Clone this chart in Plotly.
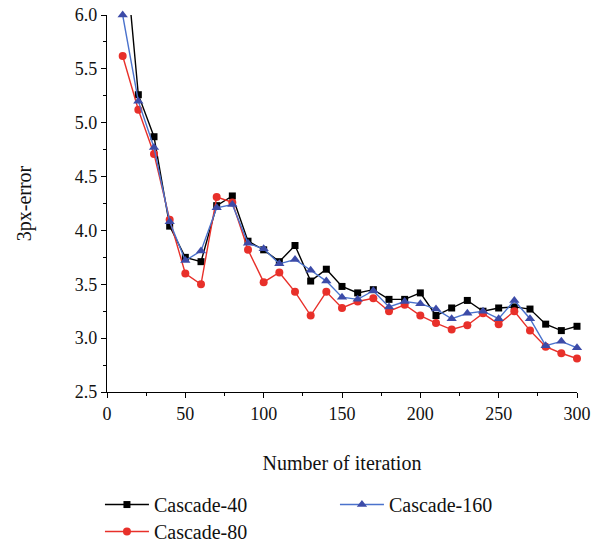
import plotly.graph_objects as go

iterations = [10, 20, 30, 40, 50, 60, 70, 80, 90, 100, 110, 120, 130, 140, 150,
              160, 170, 180, 190, 200, 210, 220, 230, 240, 250, 260, 270, 280, 290, 300]

cascade_40 = [6.85, 5.26, 4.87, 4.04, 3.75, 3.71, 4.23, 4.32, 3.90, 3.82, 3.71, 3.86, 3.53, 3.64, 3.48,
              3.42, 3.45, 3.36, 3.36, 3.42, 3.21, 3.28, 3.35, 3.25, 3.28, 3.29, 3.27, 3.13, 3.07, 3.11]
cascade_80 = [5.62, 5.12, 4.71, 4.10, 3.60, 3.50, 4.31, 4.26, 3.82, 3.52, 3.61, 3.43, 3.21, 3.43, 3.28,
              3.34, 3.37, 3.25, 3.31, 3.21, 3.14, 3.08, 3.12, 3.23, 3.13, 3.25, 3.07, 2.92, 2.86, 2.81]
cascade_160 = [6.00, 5.20, 4.77, 4.08, 3.72, 3.81, 4.21, 4.24, 3.88, 3.83, 3.69, 3.73, 3.63, 3.53, 3.38,
               3.36, 3.44, 3.29, 3.34, 3.32, 3.27, 3.18, 3.23, 3.25, 3.18, 3.35, 3.18, 2.93, 2.97, 2.91]

x_ticks = [0, 50, 100, 150, 200, 250, 300]
y_ticks = [2.5, 3.0, 3.5, 4.0, 4.5, 5.0, 5.5, 6.0]

FONT = "Liberation Serif"

fig = go.Figure()
fig.add_trace(go.Scatter(
    x=iterations, y=cascade_40, name="Cascade-40", mode="lines+markers",
    line=dict(color="#000000", width=1.4),
    marker=dict(symbol="square", size=7, color="#000000"),
    cliponaxis=False, legend="legend"))
fig.add_trace(go.Scatter(
    x=iterations, y=cascade_80, name="Cascade-80", mode="lines+markers",
    line=dict(color="#E8302A", width=1.4),
    marker=dict(symbol="circle", size=8, color="#E8302A"),
    cliponaxis=False, legend="legend3"))
fig.add_trace(go.Scatter(
    x=iterations, y=cascade_160, name="Cascade-160", mode="lines+markers",
    line=dict(color="#4A72CC", width=1.4),
    marker=dict(symbol="triangle-up", size=9, color="#3C4BA8"),
    cliponaxis=False, legend="legend2"))

leg_common = dict(orientation="v", xanchor="left", yref="container", yanchor="top",
                  font=dict(family=FONT, size=20), itemwidth=44,
                  bgcolor="rgba(0,0,0,0)")

fig.update_layout(
    width=615, height=545,
    margin=dict(l=107, r=38, t=15, b=153, autoexpand=False),
    paper_bgcolor="white", plot_bgcolor="white",
    font=dict(family=FONT, size=18, color="#111111"),
    legend=dict(x=-0.015, y=0.11, **leg_common),
    legend2=dict(x=0.485, y=0.11, **leg_common),
    legend3=dict(x=-0.015, y=0.0606, **leg_common),
    showlegend=True,
)
fig.update_xaxes(
    range=[0, 300], tickvals=x_ticks, ticktext=[str(v) for v in x_ticks],
    showline=True, linecolor="#000000", linewidth=1.2,
    ticks="outside", ticklen=5, tickwidth=1.2, tickcolor="#000000",
    minor=dict(ticks="outside", ticklen=3, tickwidth=1, tickcolor="#000000", dtick=25, tick0=0),
    showgrid=False, zeroline=False,
    tickfont=dict(family=FONT, size=18),
    title=dict(text="Number of iteration", font=dict(family=FONT, size=20), standoff=33),
)
fig.update_yaxes(
    range=[2.5, 6.0], tickvals=y_ticks, ticktext=[f"{v:.1f}" for v in y_ticks],
    showline=True, linecolor="#000000", linewidth=1.2,
    ticks="outside", ticklen=5, tickwidth=1.2, tickcolor="#000000",
    minor=dict(ticks="outside", ticklen=3, tickwidth=1, tickcolor="#000000", dtick=0.25, tick0=0),
    showgrid=False, zeroline=False,
    tickfont=dict(family=FONT, size=18),
    title=dict(text="3px-error", font=dict(family=FONT, size=20), standoff=37),
)

fig.write_html("out.html", config={"displayModeBar": False},
               post_script="document.body.style.margin='0';document.body.style.padding='0';")
